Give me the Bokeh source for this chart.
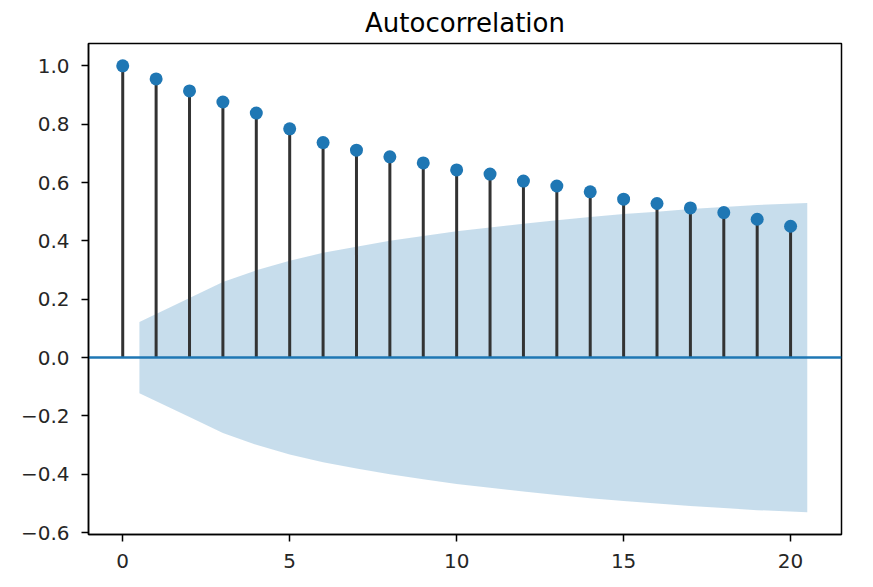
from bokeh.plotting import figure
from bokeh.models import FixedTicker, Range1d, ColumnDataSource
from bokeh.embed import file_html
from bokeh.resources import INLINE

lags = list(range(21))
acf = [1.0, 0.955, 0.914, 0.876, 0.838, 0.784, 0.737, 0.711, 0.688, 0.667, 0.643,
       0.629, 0.605, 0.588, 0.568, 0.543, 0.528, 0.513, 0.497, 0.474, 0.45]
band_x = [0.5, 2, 3, 4, 5, 6, 7, 8, 9, 10, 11, 12, 13, 14, 15, 16, 17, 18, 19, 20.5]
band_hi = [0.122, 0.204, 0.259, 0.299, 0.332, 0.359, 0.380, 0.400, 0.417, 0.433,
           0.446, 0.459, 0.471, 0.482, 0.492, 0.500, 0.509, 0.516, 0.523, 0.530]
band_lo = [-v for v in band_hi]
x_ticks = [0, 5, 10, 15, 20]
y_ticks = [-0.6, -0.4, -0.2, 0.0, 0.2, 0.4, 0.6, 0.8, 1.0]
y_labels = ["\u22120.6", "\u22120.4", "\u22120.2", "0.0", "0.2", "0.4", "0.6", "0.8", "1.0"]

FONT = "DejaVu Sans"
BLUE = "#1f77b4"

p = figure(width=857, height=571, output_backend="svg", toolbar_location=None,
           x_range=Range1d(-1.025, 21.525), y_range=Range1d(-0.6065, 1.0765),
           min_border_left=88, min_border_right=16, min_border_top=43, min_border_bottom=37,
           title="Autocorrelation")
p.title.align = "center"
p.title.text_font = FONT
p.title.text_font_size = "26px"
p.title.text_font_style = "normal"
p.title.text_color = "#000000"
p.title.standoff = 11

p.xgrid.visible = False
p.ygrid.visible = False
p.outline_line_color = "#000000"
p.outline_line_width = 1.5
p.background_fill_color = "white"
p.border_fill_color = "white"

p.varea(x=band_x, y1=band_lo, y2=band_hi, fill_color=BLUE, fill_alpha=0.25)

src = ColumnDataSource(dict(x=lags, y=acf, z=[0] * len(lags)))
p.segment(x0="x", y0="z", x1="x", y1="y", source=src, line_color="#333333", line_width=3)
p.line(x=[-1.025, 21.525], y=[0, 0], line_color=BLUE, line_width=2.5)
p.scatter(x="x", y="y", source=src, size=13, fill_color=BLUE, line_color=BLUE, line_width=0)

for ax in (p.xaxis[0], p.yaxis[0]):
    ax.major_label_text_font = FONT
    ax.major_label_text_font_size = "20px"
    ax.major_label_text_color = "#262626"
    ax.axis_line_color = "#000000"
    ax.axis_line_width = 1.5
    ax.major_tick_line_color = "#000000"
    ax.major_tick_line_width = 1.5
    ax.major_tick_in = 0
    ax.major_tick_out = 7
    ax.minor_tick_line_color = None

p.xaxis.major_label_standoff = 12
p.yaxis.major_label_standoff = 12
p.xaxis.ticker = FixedTicker(ticks=x_ticks)
p.yaxis.ticker = FixedTicker(ticks=y_ticks)
p.yaxis.major_label_overrides = {t: l for t, l in zip(y_ticks, y_labels)}

open("out.html", "w").write(file_html(p, INLINE))
